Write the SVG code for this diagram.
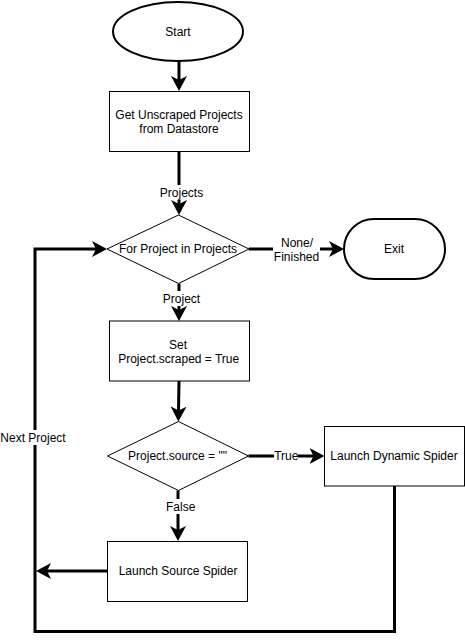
<svg xmlns="http://www.w3.org/2000/svg" width="465" height="641" viewBox="0 0 465 641">
<style>
  text { font-family: "Liberation Sans", Arial, sans-serif; font-size: 12px; fill: #000; text-anchor: middle; dominant-baseline: central; }
  .box { fill: #fff; stroke: #000; stroke-width: 1; }
  .term { fill: #fff; stroke: #000; stroke-width: 2; }
  .edge { fill: none; stroke: #000; stroke-width: 3; }
  .lbl { fill: #fff; stroke: none; }
</style>
<defs>
  <marker id="arr" viewBox="0 0 15 16" refX="4" refY="8" markerWidth="15" markerHeight="16" markerUnits="userSpaceOnUse" orient="auto">
    <path d="M0,0 L15,8 L0,16 L4,8 Z" fill="#000"/>
  </marker>
</defs>
<rect width="465" height="641" fill="#fff"/>

<g id="connectors">
  <line class="edge" x1="179" y1="61" x2="179" y2="80" marker-end="url(#arr)"/>
  <line class="edge" x1="179" y1="151.5" x2="179" y2="204" marker-end="url(#arr)"/>
  <line class="edge" x1="249" y1="249" x2="333" y2="249" marker-end="url(#arr)"/>
  <line class="edge" x1="179" y1="283.5" x2="179" y2="310" marker-end="url(#arr)"/>
  <line class="edge" x1="179" y1="381" x2="178.5" y2="410.5" marker-end="url(#arr)"/>
  <line class="edge" x1="248.5" y1="456" x2="313.5" y2="456" marker-end="url(#arr)"/>
  <line class="edge" x1="178" y1="490.5" x2="178" y2="530" marker-end="url(#arr)"/>
  <line class="edge" x1="107.5" y1="571" x2="47" y2="571" marker-end="url(#arr)"/>
  <polyline class="edge" points="394.5,486 394.5,631.5 35,631.5 35,249 96,249" marker-end="url(#arr)"/>
  <rect class="lbl" x="158" y="185" width="46" height="15"/>
  <text x="181.5" y="192.5">Projects</text>
  <rect class="lbl" x="273" y="235" width="47" height="29"/>
  <text x="297" y="242.5">None/</text>
  <text x="296.5" y="256.5">Finished</text>
  <rect class="lbl" x="160" y="291" width="43" height="15"/>
  <text x="181.5" y="298.5">Project</text>
  <rect class="lbl" x="274" y="449" width="24" height="15"/>
  <text x="286.3" y="456">True</text>
  <rect class="lbl" x="164" y="499" width="33" height="15"/>
  <text x="180.7" y="506.7">False</text>
  <rect class="lbl" x="0" y="430" width="67" height="15"/>
  <text x="33" y="437.7">Next Project</text>
</g>

<g id="start">
  <ellipse class="term" cx="178" cy="31.5" rx="65" ry="29.5"/>
  <text x="178" y="31.5">Start</text>
</g>
<g id="get-projects">
  <rect class="box" x="109.5" y="91.5" width="140" height="60"/>
  <text x="179" y="115">Get Unscraped Projects</text>
  <text x="179" y="128.7">from Datastore</text>
</g>
<g id="for-project">
  <polygon class="box" points="107,249 178.5,215 249,249 178.5,283.5"/>
  <text x="178" y="249">For Project in Projects</text>
</g>
<g id="exit">
  <rect class="term" x="344" y="219" width="101" height="60" rx="30" ry="30"/>
  <text x="394" y="249">Exit</text>
</g>
<g id="set-scraped">
  <rect class="box" x="109.5" y="321" width="140" height="60"/>
  <text x="178" y="344.5">Set</text>
  <text x="178.7" y="358.5">Project.scraped = True</text>
</g>
<g id="source-check">
  <polygon class="box" points="107.5,456 178.5,421.5 248.5,456 178.5,490.5"/>
  <text x="177.5" y="456">Project.source = ""</text>
</g>
<g id="dynamic-spider">
  <rect class="box" x="324.5" y="426.5" width="140" height="59.5"/>
  <text x="394" y="456">Launch Dynamic Spider</text>
</g>
<g id="source-spider">
  <rect class="box" x="107.5" y="541.5" width="140" height="60"/>
  <text x="178" y="571.3">Launch Source Spider</text>
</g>
</svg>
